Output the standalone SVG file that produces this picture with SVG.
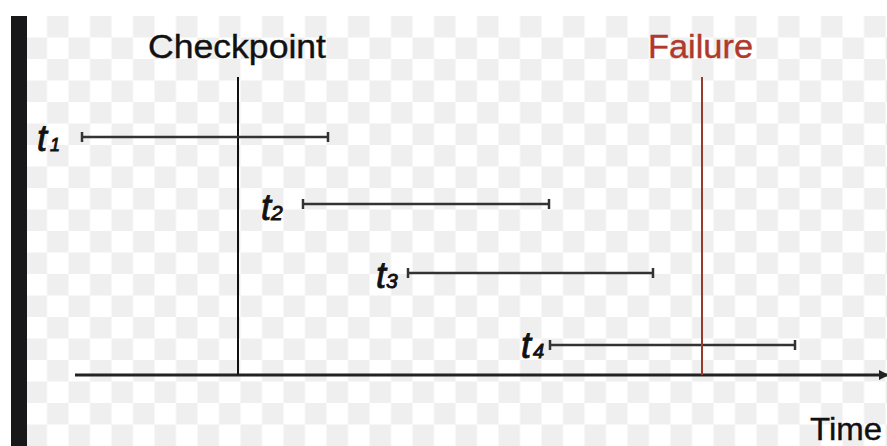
<svg xmlns="http://www.w3.org/2000/svg" width="887" height="446" viewBox="0 0 887 446">
  <defs>
    <pattern id="checker" x="25.5" y="16" width="43" height="43" patternUnits="userSpaceOnUse">
      <rect x="0" y="0" width="43" height="43" fill="#ffffff"/>
      <rect x="21.5" y="0" width="21.5" height="21.5" fill="#efefef"/>
      <rect x="0" y="21.5" width="21.5" height="21.5" fill="#efefef"/>
    </pattern>
    <marker id="arrow" markerWidth="10" markerHeight="10" refX="8" refY="5" orient="auto" markerUnits="userSpaceOnUse">
      <path d="M0,0 L10,5 L0,10 Z" fill="#222"/>
    </marker>
  </defs>
  <style>
    .lbl { font-family: "Liberation Sans", Arial, sans-serif; stroke-width: 0.4; }
    .ti { font-family: "Liberation Sans", Arial, sans-serif; font-style: italic; fill: #111; stroke: #111; stroke-width: 0.9; }
    .bar { stroke: #333; stroke-width: 2.5; fill: none; }
  </style>
  <rect x="0" y="0" width="887" height="446" fill="#ffffff"/>
  <rect x="27" y="16" width="860" height="430" fill="url(#checker)"/>
  <rect id="leftbar" x="11" y="16" width="16" height="430" fill="#18181b"/>

  <g id="connectors">
    <line id="time-axis" x1="75" y1="375" x2="887" y2="375" stroke="#222" stroke-width="3" marker-end="url(#arrow)"/>
    <line id="checkpoint-line" x1="238" y1="77" x2="238" y2="375" stroke="#111" stroke-width="2"/>
    <g id="t1-bar" class="bar">
      <line x1="82" y1="137" x2="328" y2="137"/>
      <line x1="82" y1="132" x2="82" y2="142"/>
      <line x1="328" y1="132" x2="328" y2="142"/>
    </g>
    <g id="t2-bar" class="bar">
      <line x1="303" y1="204" x2="549" y2="204"/>
      <line x1="303" y1="199" x2="303" y2="209"/>
      <line x1="549" y1="199" x2="549" y2="209"/>
    </g>
    <g id="t3-bar" class="bar">
      <line x1="408" y1="273" x2="653" y2="273"/>
      <line x1="408" y1="268" x2="408" y2="278"/>
      <line x1="653" y1="268" x2="653" y2="278"/>
    </g>
    <g id="t4-bar" class="bar">
      <line x1="550" y1="345" x2="795" y2="345"/>
      <line x1="550" y1="340" x2="550" y2="350"/>
      <line x1="795" y1="340" x2="795" y2="350"/>
    </g>
    <line id="failure-line" x1="702" y1="77" x2="702" y2="375" stroke="#9a3a2c" stroke-width="2"/>
  </g>

  <g id="checkpoint">
    <text class="lbl" x="148" y="58" font-size="33" textLength="178" lengthAdjust="spacingAndGlyphs" fill="#111" stroke="#111">Checkpoint</text>
  </g>
  <g id="failure">
    <text class="lbl" x="648" y="58" font-size="33" textLength="105" lengthAdjust="spacingAndGlyphs" fill="#b0392b" stroke="#b0392b">Failure</text>
  </g>
  <g id="time">
    <text class="lbl" x="810" y="440" font-size="31" textLength="72" lengthAdjust="spacingAndGlyphs" fill="#111" stroke="#111">Time</text>
  </g>
  <g id="t1">
    <text class="ti" x="37" y="151" font-size="36">t</text>
    <text class="ti" x="50" y="151" font-size="18">1</text>
  </g>
  <g id="t2">
    <text class="ti" x="261" y="220" font-size="36">t</text>
    <text class="ti" x="271" y="220" font-size="21">2</text>
  </g>
  <g id="t3">
    <text class="ti" x="376" y="288" font-size="36">t</text>
    <text class="ti" x="386" y="288" font-size="21">3</text>
  </g>
  <g id="t4">
    <text class="ti" x="521" y="358" font-size="36">t</text>
    <text class="ti" x="533" y="358" font-size="20">4</text>
  </g>
</svg>
